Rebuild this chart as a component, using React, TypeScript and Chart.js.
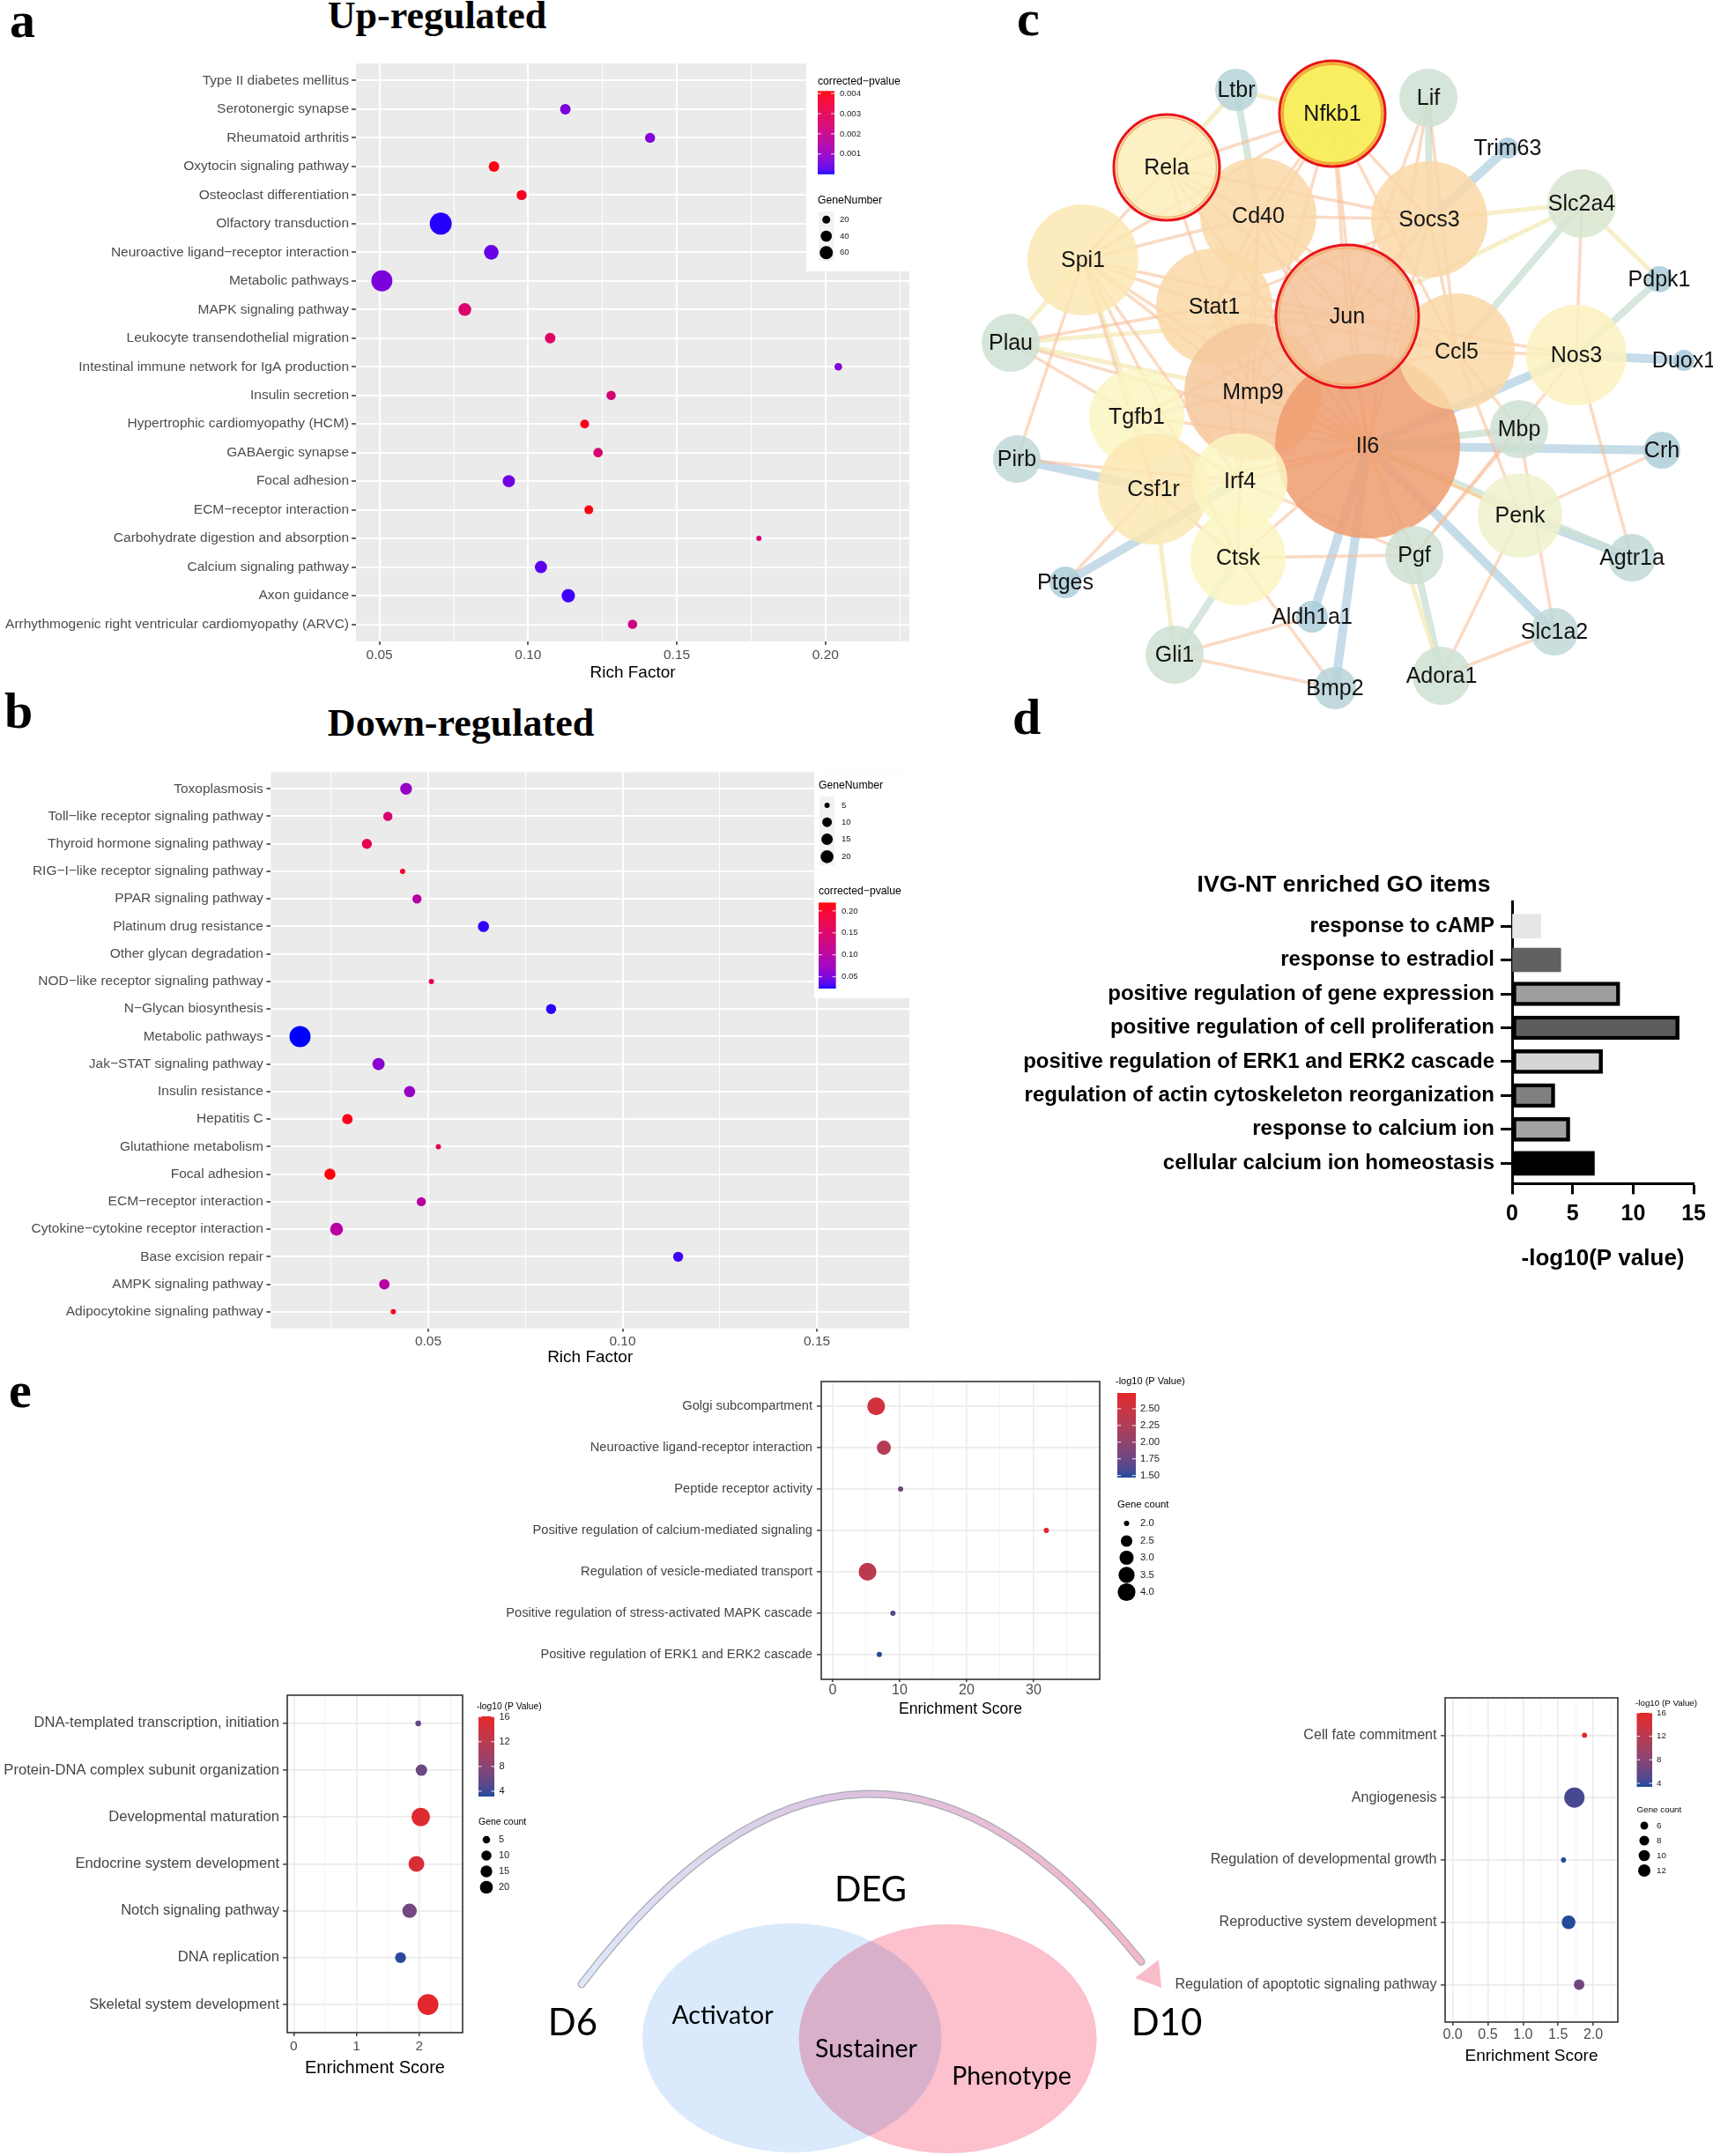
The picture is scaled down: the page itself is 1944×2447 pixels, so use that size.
import React, { useEffect, useRef } from 'react';
import { Chart, registerables } from 'chart.js';
Chart.register(...registerables);

const SANS = '"Liberation Sans", Arial, Helvetica, sans-serif';
const SERIF = '"Liberation Serif", "Times New Roman", serif';
const CAL = 'Lato, "Open Sans", sans-serif';
Chart.defaults.font.family = SANS;

// ================= Panel a : Up-regulated KEGG =================
const upPathways = [
  'Type II diabetes mellitus', 'Serotonergic synapse', 'Rheumatoid arthritis', 'Oxytocin signaling pathway',
  'Osteoclast differentiation', 'Olfactory transduction', 'Neuroactive ligand\u2212receptor interaction', 'Metabolic pathways',
  'MAPK signaling pathway', 'Leukocyte transendothelial migration', 'Intestinal immune network for IgA production',
  'Insulin secretion', 'Hypertrophic cardiomyopathy (HCM)', 'GABAergic synapse', 'Focal adhesion',
  'ECM\u2212receptor interaction', 'Carbohydrate digestion and absorption', 'Calcium signaling pathway', 'Axon guidance',
  'Arrhythmogenic right ventricular cardiomyopathy (ARVC)'];
const upRichFactor = [0.21, 0.1125, 0.141, 0.0885, 0.0978, 0.0706, 0.0876, 0.0508, 0.0787, 0.1074, 0.2043, 0.1279, 0.119, 0.1235, 0.0935, 0.1204, 0.1776, 0.1043, 0.1135, 0.1351];
const upGeneNumber = [25, 35, 31, 35, 31, 216, 78, 193, 56, 35, 19, 27, 24, 27, 50, 24, 15, 50, 63, 27];
const upPadj = [0.002, 0.0006, 0.0007, 0.0040, 0.0038, 0.00005, 0.0004, 0.0006, 0.0026, 0.0027, 0.0007, 0.0024, 0.0039, 0.0025, 0.0005, 0.0040, 0.0024, 0.0003, 0.00015, 0.0022];
const upXMajor = [0.05, 0.10, 0.15, 0.20];
const upXMinor = [0.075, 0.125, 0.175, 0.225];
const upPTicks = [0.001, 0.002, 0.003, 0.004];
const upPLabels = ['0.001', '0.002', '0.003', '0.004'];
const upSizeBreaks = [20, 40, 60];

// ================= Panel b : Down-regulated KEGG =================
const downPathways = [
  'Toxoplasmosis', 'Toll\u2212like receptor signaling pathway', 'Thyroid hormone signaling pathway',
  'RIG\u2212I\u2212like receptor signaling pathway', 'PPAR signaling pathway', 'Platinum drug resistance',
  'Other glycan degradation', 'NOD\u2212like receptor signaling pathway', 'N\u2212Glycan biosynthesis', 'Metabolic pathways',
  'Jak\u2212STAT signaling pathway', 'Insulin resistance', 'Hepatitis C', 'Glutathione metabolism', 'Focal adhesion',
  'ECM\u2212receptor interaction', 'Cytokine\u2212cytokine receptor interaction', 'Base excision repair',
  'AMPK signaling pathway', 'Adipocytokine signaling pathway'];
const downRichFactor = [0.0443, 0.0396, 0.0342, 0.0434, 0.0471, 0.0642, 0.16, 0.0508, 0.0816, 0.017, 0.0372, 0.0452, 0.0292, 0.0526, 0.0247, 0.0482, 0.0264, 0.1143, 0.0387, 0.041];
const downGeneNumber = [16, 9, 11, 5, 9, 14, 8, 5, 11, 71, 18, 14, 12, 5, 14, 9, 20, 11, 12, 5];
const downPadj = [0.07, 0.14, 0.17, 0.20, 0.10, 0.028, 0.1, 0.18, 0.027, 0.0233, 0.062, 0.07, 0.21, 0.16, 0.215, 0.10, 0.10, 0.03, 0.10, 0.21];
const downXMajor = [0.05, 0.10, 0.15];
const downXMinor = [0.025, 0.075, 0.125];
const downPTicks = [0.05, 0.10, 0.15, 0.20];
const downPLabels = ['0.05', '0.10', '0.15', '0.20'];
const downSizeBreaks = [5, 10, 15, 20];

// ================= Panel c : PPI network =================
const geneNames = ['Cd40', 'Socs3', 'Spi1', 'Rela', 'Stat1', 'Mmp9', 'Il6', 'Ccl5', 'Tgfb1', 'Csf1r', 'Irf4', 'Ctsk', 'Jun', 'Nfkb1', 'Nos3', 'Penk', 'Slc2a4', 'Ltbr', 'Lif', 'Trim63', 'Pdpk1', 'Plau', 'Duox1', 'Mbp', 'Pirb', 'Crh', 'Pgf', 'Agtr1a', 'Ptges', 'Aldh1a1', 'Slc1a2', 'Gli1', 'Adora1', 'Bmp2'];
const geneLayoutX = [328, 522, 129, 224, 278, 322, 452, 553, 190, 209, 307, 305, 429, 412, 689, 625, 695, 303, 521, 611, 783, 47, 811, 624, 54, 786, 505, 752, 109, 389, 664, 233, 536, 415];
const geneLayoutY = [245, 249, 295, 190, 348, 445, 506, 399, 473, 555, 546, 633, 359, 129, 403, 585, 231, 102, 111, 168, 317, 389, 409, 487, 521, 511, 630, 633, 661, 700, 717, 743, 767, 781];
const geneScore = [20, 20, 19, 18, 20, 24, 33, 20, 16, 19, 16, 16, 25, 18, 17, 14, 11, 6, 9, 2, 3, 9, 2, 9, 7, 5, 9, 7, 4, 4, 7, 9, 9, 6];
const hubGenes = ['Nfkb1', 'Rela', 'Jun'];
const seedGene = 'Nfkb1';
const geneEdges: [string, string, number][] = [
  ['Trim63', 'Socs3', 4], ['Duox1', 'Nos3', 4], ['Crh', 'Il6', 4], ['Ptges', 'Irf4', 4], ['Aldh1a1', 'Il6', 4],
  ['Bmp2', 'Il6', 4], ['Pirb', 'Csf1r', 4], ['Slc1a2', 'Il6', 4], ['Il6', 'Nos3', 4], ['Agtr1a', 'Penk', 4],
  ['Ltbr', 'Cd40', 3], ['Lif', 'Socs3', 3], ['Gli1', 'Ctsk', 3], ['Adora1', 'Pgf', 3], ['Slc2a4', 'Ccl5', 3],
  ['Pdpk1', 'Nos3', 3], ['Mbp', 'Il6', 3], ['Agtr1a', 'Il6', 3],
  ['Ltbr', 'Nfkb1', 2], ['Ltbr', 'Rela', 2], ['Slc2a4', 'Socs3', 2], ['Slc2a4', 'Jun', 2], ['Plau', 'Jun', 2],
  ['Gli1', 'Csf1r', 2], ['Adora1', 'Il6', 2], ['Slc2a4', 'Pdpk1', 2], ['Plau', 'Spi1', 2], ['Tgfb1', 'Spi1', 2],
  ['Penk', 'Mmp9', 2], ['Plau', 'Mmp9', 2],
  ['Rela', 'Nfkb1', 1], ['Rela', 'Cd40', 1], ['Rela', 'Socs3', 1], ['Rela', 'Stat1', 1], ['Rela', 'Spi1', 1], ['Rela', 'Jun', 1], ['Rela', 'Il6', 1],
  ['Nfkb1', 'Cd40', 1], ['Nfkb1', 'Stat1', 1], ['Nfkb1', 'Jun', 1], ['Nfkb1', 'Socs3', 1], ['Nfkb1', 'Ccl5', 1], ['Nfkb1', 'Mmp9', 1], ['Nfkb1', 'Il6', 1], ['Nfkb1', 'Spi1', 1],
  ['Lif', 'Jun', 1], ['Lif', 'Ccl5', 1], ['Lif', 'Il6', 1],
  ['Spi1', 'Stat1', 1], ['Spi1', 'Mmp9', 1], ['Spi1', 'Irf4', 1], ['Spi1', 'Csf1r', 1], ['Spi1', 'Il6', 1], ['Spi1', 'Jun', 1], ['Spi1', 'Pirb', 1], ['Spi1', 'Ctsk', 1], ['Spi1', 'Cd40', 1],
  ['Plau', 'Il6', 1], ['Plau', 'Tgfb1', 1], ['Plau', 'Stat1', 1], ['Pirb', 'Irf4', 1], ['Ptges', 'Csf1r', 1],
  ['Gli1', 'Aldh1a1', 1], ['Gli1', 'Bmp2', 1], ['Bmp2', 'Ctsk', 1], ['Adora1', 'Penk', 1], ['Adora1', 'Slc1a2', 1], ['Slc1a2', 'Mbp', 1],
  ['Agtr1a', 'Nos3', 1], ['Crh', 'Penk', 1], ['Penk', 'Il6', 1], ['Penk', 'Ccl5', 1],
  ['Pgf', 'Il6', 1], ['Pgf', 'Mbp', 1], ['Pgf', 'Ctsk', 1], ['Pgf', 'Nos3', 1], ['Mbp', 'Ccl5', 1],
  ['Nos3', 'Ccl5', 1], ['Nos3', 'Slc2a4', 1], ['Nos3', 'Jun', 1],
  ['Socs3', 'Stat1', 1], ['Socs3', 'Jun', 1], ['Socs3', 'Il6', 1], ['Socs3', 'Cd40', 1], ['Socs3', 'Ccl5', 1],
  ['Cd40', 'Stat1', 1], ['Cd40', 'Jun', 1], ['Cd40', 'Il6', 1], ['Cd40', 'Mmp9', 1], ['Cd40', 'Ccl5', 1], ['Cd40', 'Irf4', 1],
  ['Stat1', 'Jun', 1], ['Stat1', 'Il6', 1], ['Stat1', 'Irf4', 1], ['Stat1', 'Mmp9', 1], ['Stat1', 'Ccl5', 1],
  ['Jun', 'Il6', 1], ['Jun', 'Mmp9', 1], ['Jun', 'Ccl5', 1], ['Jun', 'Tgfb1', 1],
  ['Mmp9', 'Il6', 1], ['Mmp9', 'Tgfb1', 1], ['Mmp9', 'Ccl5', 1],
  ['Tgfb1', 'Il6', 1], ['Tgfb1', 'Csf1r', 1], ['Tgfb1', 'Irf4', 1],
  ['Csf1r', 'Irf4', 1], ['Csf1r', 'Il6', 1], ['Csf1r', 'Ctsk', 1],
  ['Irf4', 'Il6', 1], ['Irf4', 'Ctsk', 1], ['Irf4', 'Pgf', 1], ['Ctsk', 'Il6', 1]];

// ================= Panel d : GO bars =================
const goItems = ['response to cAMP', 'response to estradiol', 'positive regulation of gene expression', 'positive regulation of cell proliferation', 'positive regulation of ERK1 and ERK2 cascade', 'regulation of actin cytoskeleton reorganization', 'response to calcium ion', 'cellular calcium ion homeostasis'];
const goNegLogP = [2.37, 4.02, 8.9, 13.8, 7.47, 3.53, 4.77, 6.8];
const goXTicks = [0, 5, 10, 15];

// ================= Panel e : GO enrichment bubbles =================
const eTopTerms = ['Golgi subcompartment', 'Neuroactive ligand-receptor interaction', 'Peptide receptor activity', 'Positive regulation of calcium-mediated signaling', 'Regulation of vesicle-mediated transport', 'Positive regulation of stress-activated MAPK cascade', 'Positive regulation of ERK1 and ERK2 cascade'];
const eTopScore = [6.49, 7.64, 10.14, 31.9, 5.2, 8.99, 6.96];
const eTopCount = [4, 3, 2, 2, 4, 2, 2];
const eTopLogP = [2.55, 2.3, 1.75, 2.72, 2.35, 1.65, 1.5];
const eTopXMajor = [0, 10, 20, 30];
const eTopXMinor = [5, 15, 25, 35];

const eLeftTerms = ['DNA-templated transcription, initiation', 'Protein-DNA complex subunit organization', 'Developmental maturation', 'Endocrine system development', 'Notch signaling pathway', 'DNA replication', 'Skeletal system development'];
const eLeftScore = [1.983, 2.034, 2.023, 1.954, 1.845, 1.701, 2.138];
const eLeftCount = [4, 14, 54, 35, 27, 12, 74];
const eLeftLogP = [5.5, 6, 15.5, 15, 6.5, 3.5, 16];
const eLeftXMajor = [0, 1, 2];
const eLeftXMinor = [0.5, 1.5, 2.5];

const eRightTerms = ['Cell fate commitment', 'Angiogenesis', 'Regulation of developmental growth', 'Reproductive system development', 'Regulation of apoptotic signaling pathway'];
const eRightScore = [1.876, 1.732, 1.577, 1.649, 1.799];
const eRightCount = [5, 36, 5, 15, 9];
const eRightLogP = [16, 4.5, 3.5, 3.6, 6.5];
const eRightXMajor = [0, 0.5, 1.0, 1.5, 2.0];
const eRightXMinor = [0.25, 0.75, 1.25, 1.75, 2.25];

// Venn schematic
const vennSets = ['Activator', 'Phenotype'];

// ================= helpers =================
function hexToRgb(h: string) { const v = parseInt(h.slice(1), 16); return [(v >> 16) & 255, (v >> 8) & 255, v & 255]; }
function toLin(c: number) { c /= 255; return c <= 0.04045 ? c / 12.92 : Math.pow((c + 0.055) / 1.055, 2.4); }
function fromLin(c: number) { const v = c <= 0.0031308 ? 12.92 * c : 1.055 * Math.pow(Math.max(c, 0), 1 / 2.4) - 0.055; return Math.round(Math.min(1, Math.max(0, v)) * 255); }
function rgbToLab(rgb: number[]) {
  const [R, G, B] = rgb.map(toLin);
  const X = (0.4124564 * R + 0.3575761 * G + 0.1804375 * B) / 0.95047;
  const Y = 0.2126729 * R + 0.7151522 * G + 0.072175 * B;
  const Z = (0.0193339 * R + 0.119192 * G + 0.9503041 * B) / 1.08883;
  const f = (t: number) => (t > 216 / 24389 ? Math.cbrt(t) : ((24389 / 27) * t + 16) / 116);
  const fx = f(X), fy = f(Y), fz = f(Z);
  return [116 * fy - 16, 500 * (fx - fy), 200 * (fy - fz)];
}
function labToRgb(lab: number[]) {
  const [L, a, b] = lab;
  const fy = (L + 16) / 116, fx = fy + a / 500, fz = fy - b / 200;
  const inv = (t: number) => { const t3 = t * t * t; return t3 > 216 / 24389 ? t3 : (116 * t - 16) / (24389 / 27); };
  const X = inv(fx) * 0.95047, Y = inv(fy), Z = inv(fz) * 1.08883;
  const R = 3.2404542 * X - 1.5371385 * Y - 0.4985314 * Z;
  const G = -0.969266 * X + 1.8760108 * Y + 0.041556 * Z;
  const B = 0.0556434 * X - 0.2040259 * Y + 1.0572252 * Z;
  return [fromLin(R), fromLin(G), fromLin(B)];
}
function labRamp(low: string, high: string) {
  const a = rgbToLab(hexToRgb(low)), b = rgbToLab(hexToRgb(high));
  return (t: number) => {
    const u = Math.min(1, Math.max(0, t));
    const c = labToRgb(a.map((v, i) => v + (b[i] - v) * u));
    return `rgb(${c[0]},${c[1]},${c[2]})`;
  };
}
function areaPal(values: number[], dMin: number, dMax: number) {
  const lo = Math.min(...values), hi = Math.max(...values);
  return (n: number) => (dMin + (dMax - dMin) * Math.sqrt(Math.max(0, (n - lo) / (hi - lo)))) / 2;
}
const near = (list: number[], v: number) => list.some((m) => Math.abs(m - v) < 1e-9);

function legendPlugin(spec: any) {
  return {
    id: 'customLegend',
    afterDraw(chart: any) {
      const ctx = chart.ctx;
      ctx.save();
      if (spec.box) { const [x0, y0, x1, y1] = spec.box; ctx.fillStyle = '#FFFFFF'; ctx.fillRect(x0, y0, x1 - x0, y1 - y0); }
      ctx.textBaseline = 'middle';
      ctx.textAlign = 'left';
      const c = spec.color;
      if (c) {
        ctx.fillStyle = '#000000';
        ctx.font = `${c.titleSize}px ${SANS}`;
        ctx.fillText(c.title, c.tx, c.ty);
        const n = Math.ceil(c.h);
        for (let i = 0; i < n; i++) {
          const t = 1 - (i + 0.5) / c.h;
          ctx.fillStyle = c.ramp((t * (c.vmax - c.vmin) + c.vmin - c.cmin) / (c.cmax - c.cmin));
          ctx.fillRect(c.x, c.y + i, c.w, Math.min(1.5, c.h - i));
        }
        ctx.font = `${c.labelSize}px ${SANS}`;
        c.ticks.forEach((v: number, k: number) => {
          const yy = c.y + c.h - ((v - c.vmin) / (c.vmax - c.vmin)) * c.h;
          ctx.strokeStyle = 'rgba(255,255,255,0.9)';
          ctx.lineWidth = 1;
          ctx.beginPath();
          ctx.moveTo(c.x, yy); ctx.lineTo(c.x + c.w * 0.2, yy);
          ctx.moveTo(c.x + c.w * 0.8, yy); ctx.lineTo(c.x + c.w, yy);
          ctx.stroke();
          ctx.fillStyle = '#1A1A1A';
          ctx.fillText(c.labels[k], c.lx, yy);
        });
      }
      const s = spec.size;
      if (s) {
        ctx.fillStyle = '#000000';
        ctx.font = `${s.titleSize}px ${SANS}`;
        ctx.fillText(s.title, s.tx, s.ty);
        ctx.font = `${s.labelSize}px ${SANS}`;
        s.values.forEach((v: number, k: number) => {
          const cy = s.cys[k];
          if (s.keyBg) { ctx.fillStyle = s.keyBg; ctx.fillRect(s.cx - s.keyW / 2, cy - s.keyH / 2, s.keyW, s.keyH); }
          ctx.fillStyle = '#000000';
          ctx.beginPath(); ctx.arc(s.cx, cy, s.radius(v), 0, Math.PI * 2); ctx.fill();
          ctx.fillStyle = '#1A1A1A';
          ctx.fillText(s.labels[k], s.lx, cy);
        });
      }
      ctx.restore();
    },
  };
}
const bgPlugin = (color: string) => ({
  id: 'panelBg',
  beforeDraw(chart: any) {
    const { ctx, chartArea: a } = chart;
    ctx.save(); ctx.fillStyle = color; ctx.fillRect(a.left, a.top, a.right - a.left, a.bottom - a.top); ctx.restore();
  },
});
const borderPlugin = {
  id: 'panelBorder',
  afterDatasetsDraw(chart: any) {
    const { ctx, chartArea: a } = chart;
    ctx.save(); ctx.strokeStyle = '#333333'; ctx.lineWidth = 1.6; ctx.strokeRect(a.left, a.top, a.right - a.left, a.bottom - a.top); ctx.restore();
  },
};

// ----- ggplot (theme_gray) KEGG bubble chart -----
function keggConfig(s: any) {
  const rad = areaPal(s.genes, s.dMin, s.dMax);
  const ramp = labRamp('#0000FF', '#FF0000');
  const col = (p: number) => ramp((p - s.pMin) / (s.pMax - s.pMin));
  const isMajor = (v: number) => near(s.major, v);
  const sizeLeg = { ...s.sizeLegend, radius: rad };
  const colorLeg = { ...s.colorLegend, ramp, cmin: s.pMin, cmax: s.pMax, vmin: s.pMin, vmax: s.pMax };
  return {
    type: 'bubble',
    data: {
      datasets: [{
        data: s.rich.map((x: number, i: number) => ({ x, y: i, r: rad(s.genes[i]) })),
        backgroundColor: s.padj.map(col),
        borderWidth: 0,
      }],
    },
    options: {
      responsive: false, animation: false, events: [],
      layout: { autoPadding: false, padding: { top: s.padTop, right: s.padRight, left: 0, bottom: 0 } },
      plugins: { legend: { display: false }, tooltip: { enabled: false } },
      scales: {
        x: {
          type: 'linear', min: s.xMin, max: s.xMax, bounds: 'data',
          afterBuildTicks: (a: any) => { a.ticks = [...s.major, ...s.minor].sort((p, q) => p - q).map((v) => ({ value: v })); },
          afterFit: (a: any) => { a.height = s.xHeight; },
          ticks: { autoSkip: false, maxRotation: 0, padding: 2, color: '#4D4D4D', font: { size: 15.5 }, callback: (v: number) => (isMajor(v) ? v.toFixed(2) : '') },
          grid: {
            color: '#FFFFFF',
            lineWidth: (c: any) => (c.tick && isMajor(c.tick.value) ? 2 : 1),
            tickLength: 4, tickWidth: 1.5,
            tickColor: (c: any) => (c.tick && isMajor(c.tick.value) ? '#333333' : 'rgba(0,0,0,0)'),
          },
          border: { display: false },
          title: { display: true, text: 'Rich Factor', color: '#000000', font: { size: 19 }, padding: 0 },
        },
        y: {
          type: 'linear', min: -0.6, max: s.cats.length - 0.4, reverse: true, bounds: 'data',
          afterBuildTicks: (a: any) => { a.ticks = s.cats.map((_: string, i: number) => ({ value: i })); },
          afterFit: (a: any) => { a.width = s.yWidth; },
          ticks: { autoSkip: false, padding: s.yPad, color: '#4D4D4D', font: { size: 15.5 }, callback: (v: number) => s.cats[Math.round(v)] ?? '' },
          grid: { color: '#FFFFFF', lineWidth: 2, tickLength: 5, tickWidth: 1.5, tickColor: '#333333' },
          border: { display: false },
        },
      },
    },
    plugins: [bgPlugin('#EBEBEB'), legendPlugin({ box: s.box, color: colorLeg, size: sizeLeg })],
  };
}

// ----- ggplot (theme_bw) GO bubble chart -----
const E_LOW = '#174A9C';
const E_HIGH = '#E4262B';
function goConfig(s: any) {
  const rad = areaPal(s.count, s.dMin, s.dMax);
  const ramp = labRamp(E_LOW, E_HIGH);
  const col = (v: number) => ramp((v - s.vmin) / (s.vmax - s.vmin));
  const isMajor = (v: number) => near(s.major, v);
  return {
    type: 'bubble',
    data: {
      datasets: [{
        data: s.score.map((x: number, i: number) => ({ x, y: i, r: rad(s.count[i]) })),
        backgroundColor: s.logp.map(col),
        borderWidth: 0,
      }],
    },
    options: {
      responsive: false, animation: false, events: [],
      layout: { autoPadding: false, padding: { top: s.padTop, right: s.padRight, left: 0, bottom: 0 } },
      plugins: { legend: { display: false }, tooltip: { enabled: false } },
      scales: {
        x: {
          type: 'linear', min: s.xMin, max: s.xMax, bounds: 'data',
          afterBuildTicks: (a: any) => { a.ticks = [...s.major, ...s.minor].sort((p, q) => p - q).map((v) => ({ value: v })); },
          afterFit: (a: any) => { a.height = s.xHeight; },
          ticks: { autoSkip: false, maxRotation: 0, padding: s.xPad, color: '#4D4D4D', font: { size: s.tickSize }, callback: (v: number) => (isMajor(v) ? s.fmt(v) : '') },
          grid: {
            color: (c: any) => (c.tick && isMajor(c.tick.value) ? '#EBEBEB' : '#F3F3F3'),
            lineWidth: (c: any) => (c.tick && isMajor(c.tick.value) ? 1.6 : 0.9),
            tickLength: s.xTick, tickWidth: 1.4,
            tickColor: (c: any) => (c.tick && isMajor(c.tick.value) ? '#333333' : 'rgba(0,0,0,0)'),
          },
          border: { display: false },
          title: { display: true, text: 'Enrichment Score', color: '#000000', font: { size: s.titleSize }, padding: 0 },
        },
        y: {
          type: 'linear', min: -0.6, max: s.terms.length - 0.4, reverse: true, bounds: 'data',
          afterBuildTicks: (a: any) => { a.ticks = s.terms.map((_: string, i: number) => ({ value: i })); },
          afterFit: (a: any) => { a.width = s.yWidth; },
          ticks: { autoSkip: false, padding: s.yPad, color: '#444444', font: { size: s.labelSize }, callback: (v: number) => s.terms[Math.round(v)] ?? '' },
          grid: { color: '#EBEBEB', lineWidth: 1.8, tickLength: 5, tickWidth: 1.4, tickColor: '#333333' },
          border: { display: false },
        },
      },
    },
    plugins: [borderPlugin, legendPlugin({
      color: { ...s.colorLegend, ramp, cmin: s.vmin, cmax: s.vmax, vmin: s.vmin, vmax: s.vmax },
      size: { ...s.sizeLegend, radius: rad },
    })],
  };
}

// ----- network -----
const scoreStops: [number, string][] = [[2, '#A8CBDC'], [5, '#AECFDA'], [7, '#C0D9D7'], [9, '#CEE1D3'], [11, '#D8E6D1'], [14, '#EFF1CD'], [16, '#FCF5C3'], [18, '#FCEDBA'], [19, '#FCE8B3'], [20, '#FAD9A8'], [25, '#F5C49A'], [33, '#EF9D70']];
function scoreColor(v: number, alpha: number) {
  let i = 0;
  while (i < scoreStops.length - 2 && v > scoreStops[i + 1][0]) i++;
  const [v0, c0] = scoreStops[i], [v1, c1] = scoreStops[i + 1];
  const t = Math.min(1, Math.max(0, (v - v0) / (v1 - v0)));
  const a = hexToRgb(c0), b = hexToRgb(c1);
  const c = a.map((x, k) => Math.round(x + (b[k] - x) * t));
  return `rgba(${c[0]},${c[1]},${c[2]},${alpha})`;
}
const edgeStyle: Record<number, { color: string; width: number }> = {
  1: { color: 'rgba(247,188,148,0.55)', width: 3.5 },
  2: { color: 'rgba(244,236,190,0.85)', width: 5 },
  3: { color: 'rgba(204,225,212,0.8)', width: 8 },
  4: { color: 'rgba(188,214,229,0.85)', width: 10 },
};
function networkConfig() {
  const idx = (g: string) => geneNames.indexOf(g);
  const nodeR = (s: number) => 6 + 3 * s;
  const edgeSets = geneEdges.map(([a, b, w]) => ({
    type: 'line',
    data: [{ x: geneLayoutX[idx(a)], y: geneLayoutY[idx(a)] }, { x: geneLayoutX[idx(b)], y: geneLayoutY[idx(b)] }],
    borderColor: edgeStyle[w].color, borderWidth: edgeStyle[w].width, pointRadius: 0, tension: 0, fill: false,
    order: 1 + w, clip: false,
  }));
  const nodes = {
    type: 'bubble',
    data: geneNames.map((g, i) => ({ x: geneLayoutX[i], y: geneLayoutY[i], r: nodeR(geneScore[i]) })),
    backgroundColor: geneNames.map((g, i) => (g === seedGene ? 'rgba(247,238,92,0.97)' : scoreColor(geneScore[i], 0.86))),
    borderColor: geneNames.map((g) => (hubGenes.includes(g) ? '#E8141C' : 'rgba(0,0,0,0)')),
    borderWidth: geneNames.map((g) => (hubGenes.includes(g) ? 3 : 0)),
    order: 0, clip: false,
  };
  const ring = {
    type: 'bubble',
    data: geneNames.map((g, i) => ({ x: geneLayoutX[i], y: geneLayoutY[i], r: hubGenes.includes(g) ? nodeR(geneScore[i]) - 3.5 : 0 })),
    backgroundColor: 'rgba(0,0,0,0)',
    borderColor: geneNames.map((g) => (g === seedGene ? '#F3A93A' : 'rgba(243,160,90,0.8)')),
    borderWidth: geneNames.map((g) => (hubGenes.includes(g) ? (g === seedGene ? 3 : 1.5) : 0)),
    order: -1, clip: false,
  };
  const labels = {
    id: 'geneLabels',
    afterDatasetsDraw(chart: any) {
      const { ctx, scales } = chart;
      ctx.save();
      ctx.font = `25px ${SANS}`;
      ctx.textAlign = 'center';
      ctx.textBaseline = 'middle';
      ctx.fillStyle = '#141414';
      geneNames.forEach((g, i) => ctx.fillText(g, scales.x.getPixelForValue(geneLayoutX[i]), scales.y.getPixelForValue(geneLayoutY[i]) + 1));
      ctx.restore();
    },
  };
  return {
    type: 'bubble',
    data: { datasets: [nodes, ring, ...edgeSets] },
    options: {
      responsive: false, animation: false, events: [],
      layout: { autoPadding: false, padding: 0 },
      plugins: { legend: { display: false }, tooltip: { enabled: false } },
      scales: {
        x: { type: 'linear', min: 0, max: 844, display: false },
        y: { type: 'linear', min: 0, max: 830, reverse: true, display: false },
      },
    },
    plugins: [labels],
  };
}

// ----- GO bar chart -----
const goFill = ['#E6E6E6', '#616161', '#9E9E9E', '#5C5C5C', '#D6D6D6', '#808080', '#A3A3A3', '#000000'];
const goBorder = [0, 0, 4.5, 4.5, 4.5, 4.5, 4.5, 0];
function goBarConfig() {
  return {
    type: 'bar',
    data: {
      datasets: [{
        data: goNegLogP.map((v, i) => ({ x: v, y: i })),
        backgroundColor: goFill, borderColor: '#000000', borderWidth: goBorder, borderSkipped: false, barThickness: 27,
      }],
    },
    options: {
      indexAxis: 'y', responsive: false, animation: false, events: [],
      layout: { autoPadding: false, padding: { top: 43, right: 13, left: 0, bottom: 0 } },
      plugins: { legend: { display: false }, tooltip: { enabled: false } },
      scales: {
        x: {
          type: 'linear', min: 0, max: 15, bounds: 'data',
          afterBuildTicks: (a: any) => { a.ticks = goXTicks.map((v) => ({ value: v })); },
          afterFit: (a: any) => { a.height = 100.6; },
          ticks: { color: '#000000', font: { size: 25, weight: 'bold' }, padding: 8, maxRotation: 0, autoSkip: false },
          grid: { drawOnChartArea: false, offset: false, tickLength: 12, tickWidth: 3, tickColor: '#000000' },
          border: { display: true, color: '#000000', width: 3 },
          title: { display: true, text: '-log10(P value)', color: '#000000', font: { size: 26, weight: 'bold' }, padding: 0 },
        },
        y: {
          type: 'linear', min: -0.73, max: 7.6, reverse: true, offset: false, bounds: 'data',
          afterBuildTicks: (a: any) => { a.ticks = goItems.map((_, i) => ({ value: i })); },
          afterFit: (a: any) => { a.width = 616; },
          ticks: { color: '#000000', font: { size: 24, weight: 'bold' }, padding: 7, autoSkip: false, callback: (v: number) => goItems[Math.round(v)] ?? '' },
          grid: { drawOnChartArea: false, offset: false, tickLength: 13, tickWidth: 3, tickColor: '#000000' },
          border: { display: true, color: '#000000', width: 3 },
        },
      },
    },
  };
}

// ----- Venn schematic -----
function vennConfig() {
  const plugin = {
    id: 'venn',
    afterDraw(chart: any) {
      const { ctx, scales } = chart;
      const px = (v: number) => scales.x.getPixelForValue(v);
      const py = (v: number) => scales.y.getPixelForValue(v);
      ctx.save();
      const P0 = [60, 262], C = [390, -172], P2 = [718, 266];
      const tEnd = 0.965;
      const c1 = [P0[0] + tEnd * (C[0] - P0[0]), P0[1] + tEnd * (C[1] - P0[1])];
      const bx = (1 - tEnd) ** 2 * P0[0] + 2 * (1 - tEnd) * tEnd * C[0] + tEnd * tEnd * P2[0];
      const by = (1 - tEnd) ** 2 * P0[1] + 2 * (1 - tEnd) * tEnd * C[1] + tEnd * tEnd * P2[1];
      const path = () => { ctx.beginPath(); ctx.moveTo(px(P0[0]), py(P0[1])); ctx.quadraticCurveTo(px(c1[0]), py(c1[1]), px(bx), py(by)); };
      ctx.lineCap = 'round';
      path(); ctx.strokeStyle = '#A9A9B6'; ctx.lineWidth = 9; ctx.stroke();
      const grad = ctx.createLinearGradient(px(60), 0, px(718), 0);
      grad.addColorStop(0, '#DDE8F8'); grad.addColorStop(0.45, '#DCC3E0'); grad.addColorStop(1, '#F6B6C7');
      path(); ctx.strokeStyle = grad; ctx.lineWidth = 6.5; ctx.stroke();
      const dx = P2[0] - bx, dy = P2[1] - by, L = Math.hypot(dx, dy);
      const ux = dx / L, uy = dy / L;
      const baseX = P2[0] - ux * 27, baseY = P2[1] - uy * 27;
      ctx.beginPath();
      ctx.moveTo(px(P2[0]), py(P2[1]));
      ctx.lineTo(px(baseX - uy * 17), py(baseY + ux * 17));
      ctx.lineTo(px(baseX + uy * 17), py(baseY - ux * 17));
      ctx.closePath();
      ctx.fillStyle = '#F8BCCB'; ctx.fill();
      const cx = [298.8, 475.6], cy = [323, 324], rx = [169.8, 169], ry = [130, 130];
      const fills = ['#DAEAFC', '#FDC0CD'];
      vennSets.forEach((_, i) => {
        ctx.globalCompositeOperation = i === 0 ? 'source-over' : 'multiply';
        ctx.beginPath();
        ctx.ellipse(px(cx[i]), py(cy[i]), Math.abs(px(cx[i] + rx[i]) - px(cx[i])), Math.abs(py(cy[i] + ry[i]) - py(cy[i])), 0, 0, Math.PI * 2);
        ctx.fillStyle = fills[i];
        ctx.fill();
      });
      ctx.restore();
    },
  };
  return {
    type: 'scatter',
    data: { datasets: [] },
    options: {
      responsive: false, animation: false, events: [],
      layout: { autoPadding: false, padding: 0 },
      plugins: { legend: { display: false }, tooltip: { enabled: false } },
      scales: { x: { type: 'linear', min: 0, max: 760, display: false }, y: { type: 'linear', min: 0, max: 457, reverse: true, display: false } },
    },
    plugins: [plugin],
  };
}

// ================= configs =================
const configA = () => keggConfig({
  cats: upPathways, rich: upRichFactor, genes: upGeneNumber, padj: upPadj,
  xMin: 0.0421, xMax: 0.2282, major: upXMajor, minor: upXMinor,
  dMin: 6, dMax: 25, pMin: 0, pMax: 0.00412,
  padTop: 22, padRight: 8, xHeight: 47, yWidth: 404, yPad: 3,
  box: [915, 22, 1032, 258],
  colorLegend: { title: 'corrected\u2212pvalue', tx: 928, ty: 42.7, x: 928, y: 53.3, w: 19, h: 94.4, ticks: upPTicks, labels: upPLabels, lx: 953, titleSize: 12.2, labelSize: 9.6 },
  sizeLegend: { title: 'GeneNumber', tx: 928, ty: 178, values: upSizeBreaks, labels: upSizeBreaks.map(String), cx: 937.7, cys: [199.3, 218, 236.7], lx: 953, keyBg: '#F2F2F2', keyW: 17.3, keyH: 18.7, titleSize: 12.2, labelSize: 9.6 },
});
const configB = () => keggConfig({
  cats: downPathways, rich: downRichFactor, genes: downGeneNumber, padj: downPadj,
  xMin: 0.0095, xMax: 0.1738, major: downXMajor, minor: downXMinor,
  dMin: 6, dMax: 24, pMin: 0.0233, pMax: 0.219,
  padTop: 26.5, padRight: 8, xHeight: 44.4, yWidth: 307.4, yPad: 3.6,
  box: [924, 26.5, 1032, 283],
  sizeLegend: { title: 'GeneNumber', tx: 929, ty: 41.5, values: downSizeBreaks, labels: downSizeBreaks.map(String), cx: 938.6, cys: [63.9, 83.2, 102.5, 122.4], lx: 955, keyBg: '#F2F2F2', keyW: 17.3, keyH: 19.3, titleSize: 12.2, labelSize: 9.6 },
  colorLegend: { title: 'corrected\u2212pvalue', tx: 929, ty: 162, x: 929, y: 174.4, w: 19.5, h: 97.6, ticks: downPTicks, labels: downPLabels, lx: 955, titleSize: 12.2, labelSize: 9.6 },
});
const configETop = () => goConfig({
  terms: eTopTerms, score: eTopScore, count: eTopCount, logp: eTopLogP,
  xMin: -1.71, xMax: 39.87, major: eTopXMajor, minor: eTopXMinor, fmt: (v: number) => String(v),
  vmin: 1.47, vmax: 2.737, dMin: 6, dMax: 20.2,
  padTop: 18, padRight: 112, xHeight: 45, yWidth: 372, yPad: 5, xPad: 0, xTick: 3,
  labelSize: 14.7, tickSize: 16, titleSize: 17.6,
  colorLegend: { title: '-log10 (P Value)', tx: 706, ty: 18, x: 708, y: 31, w: 21, h: 96, ticks: [1.5, 1.75, 2.0, 2.25, 2.5], labels: ['1.50', '1.75', '2.00', '2.25', '2.50'], lx: 734, titleSize: 11, labelSize: 11.3 },
  sizeLegend: { title: 'Gene count', tx: 708, ty: 158, values: [2, 2.5, 3, 3.5, 4], labels: ['2.0', '2.5', '3.0', '3.5', '4.0'], cx: 718.5, cys: [179, 199, 218, 237.5, 257], lx: 734, titleSize: 11.3, labelSize: 11.3 },
});
const configELeft = () => goConfig({
  terms: eLeftTerms, score: eLeftScore, count: eLeftCount, logp: eLeftLogP,
  xMin: -0.103, xMax: 2.69, major: eLeftXMajor, minor: eLeftXMinor, fmt: (v: number) => String(v),
  vmin: 3.14, vmax: 16.1, dMin: 6.5, dMax: 23.7,
  padTop: 24, padRight: 115, xHeight: 52, yWidth: 326, yPad: 4, xPad: 2, xTick: 4,
  labelSize: 16.6, tickSize: 15.5, titleSize: 20,
  colorLegend: { title: '-log10 (P Value)', tx: 541, ty: 37, x: 543, y: 48, w: 18, h: 91, ticks: [4, 8, 12, 16], labels: ['4', '8', '12', '16'], lx: 566.5, titleSize: 10.3, labelSize: 11 },
  sizeLegend: { title: 'Gene count', tx: 543, ty: 168, values: [5, 10, 15, 20], labels: ['5', '10', '15', '20'], cx: 552, cys: [188, 206, 224, 242], lx: 566, titleSize: 10.5, labelSize: 11 },
});
const configERight = () => goConfig({
  terms: eRightTerms, score: eRightScore, count: eRightCount, logp: eRightLogP,
  xMin: -0.108, xMax: 2.35, major: eRightXMajor, minor: eRightXMinor, fmt: (v: number) => v.toFixed(1),
  vmin: 3.4, vmax: 16.0, dMin: 5.8, dMax: 23,
  padTop: 27, padRight: 108, xHeight: 50, yWidth: 340, yPad: 4.5, xPad: 1, xTick: 4,
  labelSize: 16.1, tickSize: 16, titleSize: 19,
  colorLegend: { title: '-log10 (P Value)', tx: 556, ty: 33, x: 557.6, y: 44, w: 17.4, h: 84, ticks: [4, 8, 12, 16], labels: ['4', '8', '12', '16'], lx: 580, titleSize: 9.8, labelSize: 9.8 },
  sizeLegend: { title: 'Gene count', tx: 557.6, ty: 154, values: [6, 8, 10, 12], labels: ['6', '8', '10', '12'], cx: 566, cys: [172, 189, 206, 223], lx: 580, titleSize: 9.8, labelSize: 9.8 },
});

// ================= components =================
function ChartCanvas(props: { left: number; top: number; width: number; height: number; config: () => any }) {
  const ref = useRef<HTMLCanvasElement | null>(null);
  useEffect(() => {
    const chart = new Chart(ref.current as HTMLCanvasElement, props.config());
    return () => chart.destroy();
  }, []);
  return (
    <div style={{ position: 'absolute', left: props.left, top: props.top, width: props.width, height: props.height }}>
      <canvas ref={ref} width={props.width} height={props.height} style={{ display: 'block', width: props.width, height: props.height }} />
    </div>
  );
}

const ASC: Record<string, number> = { sans: 0.8465, serif: 0.8375, lato: 0.887 };
const FAM: Record<string, string> = { sans: SANS, serif: SERIF, lato: CAL };
function Txt(p: { x: number; base: number; size: number; fam: string; weight?: number; anchor?: string; children: any }) {
  const top = p.base - ASC[p.fam] * p.size;
  const tr = p.anchor === 'middle' ? 'translateX(-50%)' : p.anchor === 'end' ? 'translateX(-100%)' : undefined;
  return (
    <div style={{ position: 'absolute', left: p.x, top, fontSize: p.size, lineHeight: `${p.size}px`, fontFamily: FAM[p.fam], fontWeight: p.weight ?? 400, color: '#000', whiteSpace: 'nowrap', transform: tr }}>
      {p.children}
    </div>
  );
}

export default function App() {
  return (
    <div style={{ position: 'absolute', left: 0, top: 0, width: 1944, height: 2447, background: '#FFFFFF', overflow: 'hidden' }}>
      <ChartCanvas left={0} top={50} width={1040} height={725} config={configA} />
      <ChartCanvas left={0} top={850} width={1040} height={702} config={configB} />
      <ChartCanvas left={1100} top={0} width={844} height={830} config={networkConfig} />
      <ChartCanvas left={1100} top={980} width={844} height={464} config={goBarConfig} />
      <ChartCanvas left={560} top={1550} width={800} height={401} config={configETop} />
      <ChartCanvas left={0} top={1900} width={640} height={459} config={configELeft} />
      <ChartCanvas left={1300} top={1900} width={644} height={445} config={configERight} />
      <ChartCanvas left={600} top={1990} width={760} height={457} config={vennConfig} />

      <Txt x={11} base={43} size={58} fam="serif" weight={700}>a</Txt>
      <Txt x={496} base={33} size={44} fam="serif" weight={700} anchor="middle">Up-regulated</Txt>
      <Txt x={5} base={827} size={58} fam="serif" weight={700}>b</Txt>
      <Txt x={523} base={836} size={44} fam="serif" weight={700} anchor="middle">Down-regulated</Txt>
      <Txt x={1154} base={41} size={58} fam="serif" weight={700}>c</Txt>
      <Txt x={1149} base={834} size={58} fam="serif" weight={700}>d</Txt>
      <Txt x={1525} base={1012} size={26.5} fam="sans" weight={700} anchor="middle">IVG-NT enriched GO items</Txt>
      <Txt x={10} base={1598} size={58} fam="serif" weight={700}>e</Txt>

      <Txt x={988} base={2158} size={40} fam="lato" anchor="middle">DEG</Txt>
      <Txt x={650} base={2310} size={42} fam="lato" anchor="middle">D6</Txt>
      <Txt x={1324} base={2310} size={42} fam="lato" anchor="middle">D10</Txt>
      <Txt x={820} base={2297} size={28.5} fam="lato" anchor="middle">Activator</Txt>
      <Txt x={983} base={2335} size={28.5} fam="lato" anchor="middle">Sustainer</Txt>
      <Txt x={1148} base={2366} size={28.5} fam="lato" anchor="middle">Phenotype</Txt>
    </div>
  );
}
